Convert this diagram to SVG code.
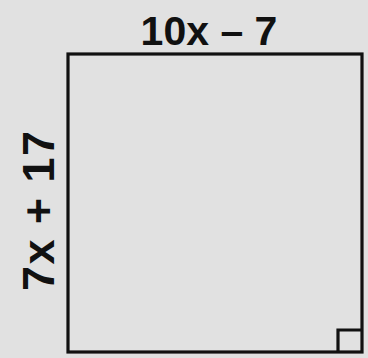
<svg xmlns="http://www.w3.org/2000/svg" width="368" height="358" viewBox="0 0 368 358">
<style>
.lbl{font-family:"Liberation Sans",Arial,sans-serif;font-weight:bold;font-size:45px;fill:#111}
.edge{fill:none;stroke:#111;stroke-width:3.2}
</style>
<rect width="368" height="358" fill="#e1e1e1"/>
<g id="square">
<rect class="edge" x="68" y="54" width="294" height="298"/>
</g>
<g id="right-angle">
<polyline class="edge" points="338,352 338,330 362,330"/>
</g>
<g id="top-label">
<text class="lbl" x="209" y="45" text-anchor="middle" style="font-size:41px">10x – 7</text>
</g>
<g id="left-label">
<text class="lbl" transform="translate(54,211) rotate(-90)" text-anchor="middle" textLength="160" lengthAdjust="spacing">7x + 17</text>
</g>
</svg>
